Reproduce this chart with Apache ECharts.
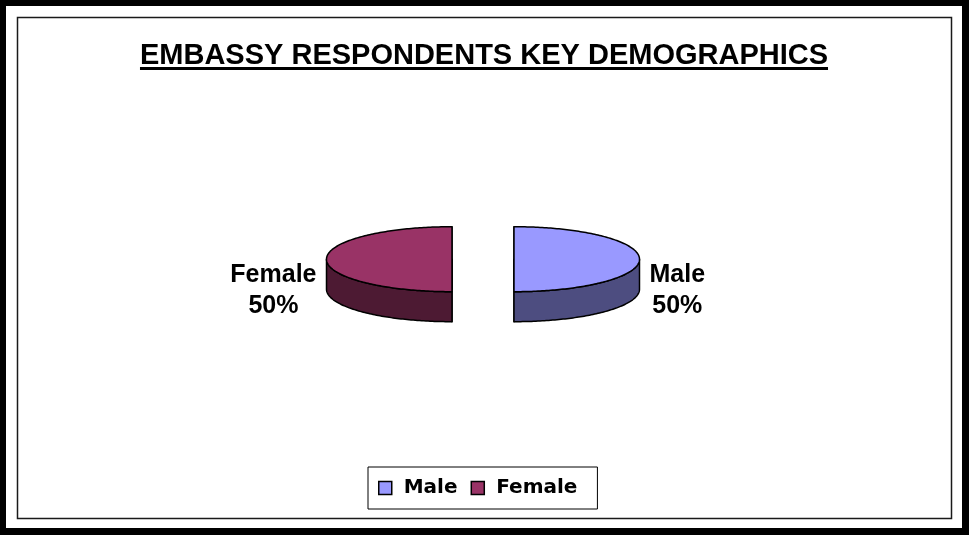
<!DOCTYPE html>
<html>
<head>
<meta charset="utf-8">
<script src="https://cdn.jsdelivr.net/npm/echarts@6/dist/echarts.min.js"></script>
<style>
html,body{margin:0;padding:0;background:#000;width:969px;height:535px;overflow:hidden;}
#chart{position:absolute;left:6px;top:6px;width:956px;height:522px;background:#fff;}
</style>
</head>
<body>
<div id="chart"></div>
<script>
// ---- data ----
const titleText = 'EMBASSY RESPONDENTS KEY DEMOGRAPHICS';
const categories = ['Male', 'Female'];
const values = [50, 50];
const topColors = ['#9999FF', '#993366'];
const sideColors = ['#4D4D80', '#4D1A33'];

// ---- style constants ----
const DEPTH = 0.923;     // pie thickness, in radius-y units
const EXPLODE = 0.247;   // explode distance, in radius units
const LABEL_GAP = 10;    // px between rim and label
const LABEL_FONT = 'bold 25px "Liberation Sans", Arial, sans-serif';
const TITLE_FONT_FAMILY = '"Liberation Sans", Arial, sans-serif';
const TITLE_SIZE = 29;

const total = values.reduce((a, b) => a + b, 0);
let acc = 0;
const slices = values.map((v) => {
  const s = acc / total * 360;
  acc += v;
  const e = acc / total * 360;
  return [s, e];
});
const pctText = values.map(v => Math.round(v / total * 100) + '%');

const measure = (() => {
  const c = document.createElement('canvas').getContext('2d');
  return (txt, font) => { c.font = font; return c.measureText(txt).width; };
})();

const chart = echarts.init(document.getElementById('chart'), null, {renderer: 'canvas'});
const W = chart.getWidth();
const titleW = measure(titleText, 'bold ' + TITLE_SIZE + 'px ' + TITLE_FONT_FAMILY);

function makeRender(idx) {
  return function (params, api) {
    const start = api.value(0), end = api.value(1);
    const rad = d => d * Math.PI / 180;
    const mid = rad((start + end) / 2);
    const ox = EXPLODE * Math.sin(mid), oy = EXPLODE * Math.cos(mid);
    const pt = (t, dz) => api.coord([ox + Math.sin(t), oy + Math.cos(t) - dz]);
    const cTop = api.coord([ox, oy]);
    const cBot = api.coord([ox, oy - DEPTH]);
    const stroke = {stroke: '#000', lineWidth: 1.5, lineJoin: 'round'};
    const children = [];
    // radial faces
    [start, end].forEach(a => {
      children.push({type: 'polygon', shape: {points: [cTop, pt(rad(a), 0), pt(rad(a), DEPTH), cBot]},
        style: Object.assign({fill: sideColors[idx]}, stroke)});
    });
    // side wall (front-facing part)
    const s0 = Math.max(start, 90), s1 = Math.min(end, 270);
    if (s1 > s0) {
      const topPts = [], botPts = [];
      for (let a = s0; a <= s1 + 1e-9; a += 1) {
        topPts.push(pt(rad(a), 0));
        botPts.push(pt(rad(a), DEPTH));
      }
      children.push({type: 'polygon', shape: {points: topPts.concat(botPts.reverse())},
        style: Object.assign({fill: sideColors[idx]}, stroke)});
    }
    // top face
    const tp = [cTop];
    for (let a = start; a <= end + 1e-9; a += 1) tp.push(pt(rad(a), 0));
    children.push({type: 'polygon', shape: {points: tp},
      style: Object.assign({fill: topColors[idx]}, stroke)});
    // label
    const txt = categories[idx] + '\n' + pctText[idx];
    const w = Math.max(measure(categories[idx], LABEL_FONT), measure(pctText[idx], LABEL_FONT));
    const rim = pt(mid, 0);
    const side = Math.sin(mid) >= 0 ? 1 : -1;
    const ly = api.coord([0, oy + Math.cos(mid) - DEPTH])[1] + 1;
    children.push({type: 'text', x: rim[0] + side * (LABEL_GAP + w / 2), y: ly,
      style: {text: txt, font: LABEL_FONT, fill: '#000', align: 'center', verticalAlign: 'middle', lineHeight: 31}});
    return {type: 'group', children: children};
  };
}

const option = {
  animation: false,
  title: {
    text: titleText,
    left: 'center',
    top: 30,
    textStyle: {fontFamily: TITLE_FONT_FAMILY, fontSize: TITLE_SIZE, fontWeight: 'bold', color: '#000'}
  },
  graphic: [
    {type: 'rect', z: -1, shape: {x: 11.5, y: 11.5, width: 934, height: 501},
      style: {fill: 'none', stroke: '#1a1a1a', lineWidth: 1.5}},
    {type: 'rect', shape: {x: (W - titleW) / 2, y: 61, width: titleW, height: 3},
      style: {fill: '#000'}}
  ],
  legend: {
    data: categories,
    left: 362,
    top: 461,
    orient: 'horizontal',
    icon: 'rect',
    itemWidth: 13,
    itemHeight: 13,
    itemGap: 13,
    padding: [11, 20, 11, 10],
    borderColor: '#000',
    borderWidth: 1,
    backgroundColor: '#fff',
    formatter: n => ' ' + n,
    itemStyle: {borderColor: '#000', borderWidth: 1.5},
    textStyle: {fontFamily: '"DejaVu Sans", sans-serif', fontSize: 20, fontWeight: 'bold', color: '#000'}
  },
  grid: {left: 100.5, right: 102.5, top: 155.7, bottom: 171.3},
  xAxis: {type: 'value', min: -3, max: 3, show: false},
  yAxis: {type: 'value', min: -3, max: 3, show: false},
  series: categories.map((name, i) => ({
    type: 'custom',
    name: name,
    coordinateSystem: 'cartesian2d',
    clip: false,
    itemStyle: {color: topColors[i]},
    encode: {x: 0, y: 1},
    data: [slices[i]],
    renderItem: makeRender(i)
  }))
};
chart.setOption(option);
</script>
</body>
</html>
